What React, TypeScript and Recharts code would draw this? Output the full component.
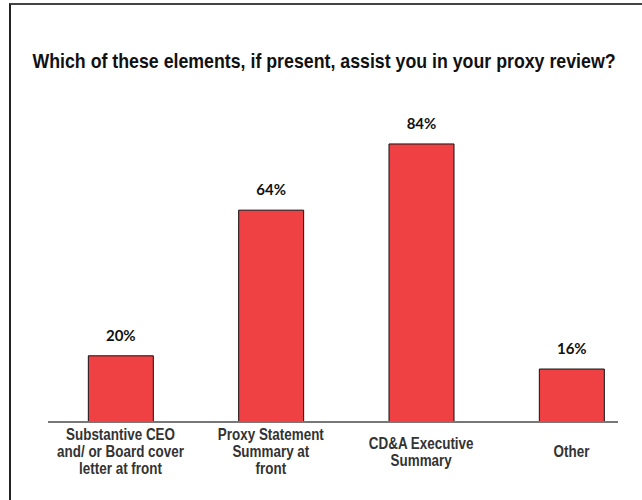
import React from "react";
import { BarChart, Bar, XAxis, YAxis, LabelList } from "recharts";

const categories = [
  "Substantive CEO and/ or Board cover letter at front",
  "Proxy Statement Summary at front",
  "CD&A Executive Summary",
  "Other",
];
const tickLines = [
  ["Substantive CEO", "and/ or Board cover", "letter at front"],
  ["Proxy Statement", "Summary at", "front"],
  ["CD&A Executive", "Summary"],
  ["Other"],
];
const values = [20, 64, 84, 16];
const valueLabels = ["20%", "64%", "84%", "16%"];
const title = "Which of these elements, if present, assist you in your proxy review?";

const data = categories.map((c, i) => ({ name: c, value: values[i], label: valueLabels[i] }));

const narrowBase = "'Liberation Sans', Arial, sans-serif";

const Tick = (props: any) => {
  const { x, payload } = props;
  const idx = categories.indexOf(payload.value);
  const lines = tickLines[idx] || [payload.value];
  const lh = 17;
  const centerY = 452;
  const startY = centerY - ((lines.length - 1) * lh) / 2;
  const sx = 0.84;
  return (
    <g transform={`translate(${x},0) scale(${sx},1)`}>
      {lines.map((l, i) => (
        <text
          key={i}
          x={0}
          y={startY + i * lh}
          textAnchor="middle"
          dominantBaseline="central"
          fontFamily={narrowBase}
          fontWeight="bold"
          fontSize={16}
          fill="#333"
        >
          {l}
        </text>
      ))}
    </g>
  );
};

export default function App() {
  return (
    <div style={{ position: "absolute", left: 0, top: 0, width: 642, height: 500, background: "#fff", overflow: "hidden" }}>
      <div
        style={{
          position: "absolute",
          left: 9,
          top: 3,
          width: 640,
          height: 510,
          borderTop: "2px solid #444",
          borderLeft: "2px solid #222",
          boxSizing: "border-box",
        }}
      />
      <svg width={642} height={100} style={{ position: "absolute", left: 0, top: 0 }}>
        <g transform="translate(324,68) scale(0.846,1)">
          <text
            x={0}
            y={0}
            textAnchor="middle"
            fontFamily={narrowBase}
            fontWeight="bold"
            fontSize={21}
            fill="#111"
          >
            {title}
          </text>
        </g>
      </svg>
      <div style={{ position: "absolute", left: 0, top: 0 }}>
        <BarChart width={642} height={500} data={data} margin={{ top: 91, right: 24, bottom: 0, left: 48 }}>
          <YAxis hide domain={[0, 100]} />
          <XAxis
            dataKey="name"
            height={78}
            interval={0}
            padding={{ left: -2.67, right: -28.67 }}
            axisLine={{ stroke: "#777", strokeWidth: 2 }}
            tickLine={false}
            tick={<Tick />}
          />
          <Bar dataKey="value" fill="#EF4044" stroke="#111" strokeWidth={1} barSize={65} isAnimationActive={false}>
            <LabelList
              dataKey="label"
              position="top"
              offset={15}
              fontFamily="Lato, 'Open Sans', sans-serif"
              fontWeight="bold"
              fontSize={15}
              fill="#111"
            />
          </Bar>
        </BarChart>
      </div>
    </div>
  );
}
